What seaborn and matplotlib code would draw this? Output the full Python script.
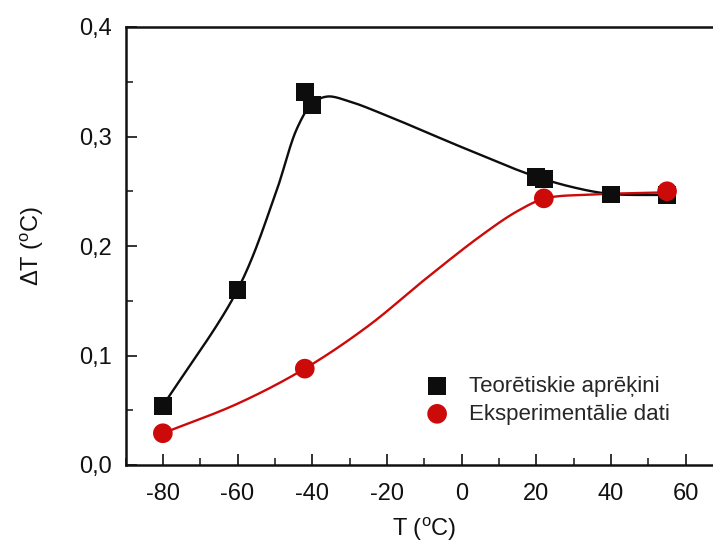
import numpy as np
import pandas as pd
import matplotlib
matplotlib.use("Agg")
import matplotlib.pyplot as plt
import seaborn as sns
from matplotlib.ticker import MultipleLocator, FuncFormatter

# ---- data ----
theory_T = [-80, -60, -42, -40, 20, 22, 40, 55]
theory_dT = [0.054, 0.160, 0.341, 0.329, 0.263, 0.261, 0.247, 0.2466]
exp_T = [-80, -42, 22, 55]
exp_dT = [0.029, 0.088, 0.2435, 0.250]

# smooth guide curves
theory_curve_T = [-80, -60, -50, -44, -40, -36, -30, -20, 0, 18.5, 30, 40, 55]
theory_curve_dT = [0.054, 0.160, 0.246, 0.308, 0.330, 0.3365, 0.332, 0.319,
                   0.2903, 0.265, 0.2535, 0.2475, 0.2466]
exp_curve_T = [-80, -60, -42, -25, -10, 5, 15, 22.5, 35, 55]
exp_curve_dT = [0.029, 0.056, 0.088, 0.127, 0.169, 0.209, 0.232, 0.2435,
                0.247, 0.249]

label_theory = "Teorētiskie aprēķini"
label_exp = "Eksperimentālie dati"
xticks = [-80, -60, -40, -20, 0, 20, 40, 60]
yticks = [0.0, 0.1, 0.2, 0.3, 0.4]


def catmull_rom(xs, ys, n=30):
    """Smooth path through the given points (centripetal Catmull-Rom)."""
    sx, sy = 160.0, 0.4 * 160.0 / 120.0
    P = np.column_stack([np.asarray(xs) / sx, np.asarray(ys) / sy])
    P = np.vstack([2 * P[0] - P[1], P, 2 * P[-1] - P[-2]])
    out = []
    for i in range(1, len(P) - 2):
        p0, p1, p2, p3 = P[i - 1], P[i], P[i + 1], P[i + 2]
        t0 = 0.0
        t1 = t0 + np.linalg.norm(p1 - p0) ** 0.5
        t2 = t1 + np.linalg.norm(p2 - p1) ** 0.5
        t3 = t2 + np.linalg.norm(p3 - p2) ** 0.5
        t = np.linspace(t1, t2, n, endpoint=False)[:, None]
        a1 = (t1 - t) / (t1 - t0) * p0 + (t - t0) / (t1 - t0) * p1
        a2 = (t2 - t) / (t2 - t1) * p1 + (t - t1) / (t2 - t1) * p2
        a3 = (t3 - t) / (t3 - t2) * p2 + (t - t2) / (t3 - t2) * p3
        b1 = (t2 - t) / (t2 - t0) * a1 + (t - t0) / (t2 - t0) * a2
        b2 = (t3 - t) / (t3 - t1) * a2 + (t - t1) / (t3 - t1) * a3
        c = (t2 - t) / (t2 - t1) * b1 + (t - t1) / (t2 - t1) * b2
        out.append(c)
    out.append(P[-2][None, :])
    out = np.vstack(out)
    return out[:, 0] * sx, out[:, 1] * sy


sns.set_theme(style="ticks")
plt.rcParams["font.family"] = ["Liberation Sans", "DejaVu Sans"]
plt.rcParams["mathtext.fontset"] = "custom"
plt.rcParams["mathtext.rm"] = "Liberation Sans"
plt.rcParams["axes.unicode_minus"] = False

fig = plt.figure(figsize=(7.13, 5.48), dpi=100)
ax = fig.add_axes([125.5 / 713, 83 / 548, 597.6 / 713, 438 / 548])

BLACK = "#0d0d0d"
RED = "#cc0a0a"

tx, ty = catmull_rom(theory_curve_T, theory_curve_dT)
ex, ey = catmull_rom(exp_curve_T, exp_curve_dT)
df_tc = pd.DataFrame({"T": tx, "dT": ty})
df_ec = pd.DataFrame({"T": ex, "dT": ey})

sns.lineplot(data=df_tc, x="T", y="dT", sort=False, estimator=None, color=BLACK,
             lw=1.7, ax=ax, zorder=2)
sns.lineplot(data=df_ec, x="T", y="dT", sort=False, estimator=None, color=RED,
             lw=1.7, ax=ax, zorder=2.1)

df_t = pd.DataFrame({"T": theory_T, "dT": theory_dT})
df_e = pd.DataFrame({"T": exp_T, "dT": exp_dT})
sns.scatterplot(data=df_t, x="T", y="dT", marker="s", s=165, color=BLACK,
                edgecolor="none", linewidth=0, ax=ax, zorder=3, label=label_theory)
sns.scatterplot(data=df_e, x="T", y="dT", marker="o", s=200, color=RED,
                edgecolor="none", linewidth=0, ax=ax, zorder=4, label=label_exp)

ax.set_xlim(-90, 70)
ax.set_ylim(0, 0.4)
ax.set_xticks(xticks)
ax.set_yticks(yticks)
ax.xaxis.set_minor_locator(MultipleLocator(10))
ax.yaxis.set_minor_locator(MultipleLocator(0.05))
ax.yaxis.set_major_formatter(FuncFormatter(lambda v, p: f"{v:.1f}".replace(".", ",")))

for s in ax.spines.values():
    s.set_linewidth(1.8)
    s.set_color("#111111")

ax.tick_params(which="major", direction="in", length=8, width=1.2, labelsize=17,
               colors="#111111", top=False, right=False)
ax.tick_params(which="minor", direction="in", length=5, width=1.2,
               top=False, right=False)
ax.tick_params(axis="x", which="major", pad=13)
ax.tick_params(axis="y", which="major", pad=10)

ax.set_xlabel(r"T ($\mathregular{^{o}}$C)", fontsize=17, labelpad=8, color="#111111")
ax.set_ylabel(r"ΔT ($\mathregular{^{o}}$C)", fontsize=17, labelpad=24, color="#111111")

leg = ax.legend(loc="upper left", bbox_to_anchor=(426 / 713, 1 - 376 / 548),
                bbox_transform=fig.transFigure, frameon=False, fontsize=16,
                handlelength=1.0, handletextpad=0.95, labelspacing=0.3,
                borderpad=0, borderaxespad=0, markerscale=1.0)

fig.savefig("out.png", dpi=100)
